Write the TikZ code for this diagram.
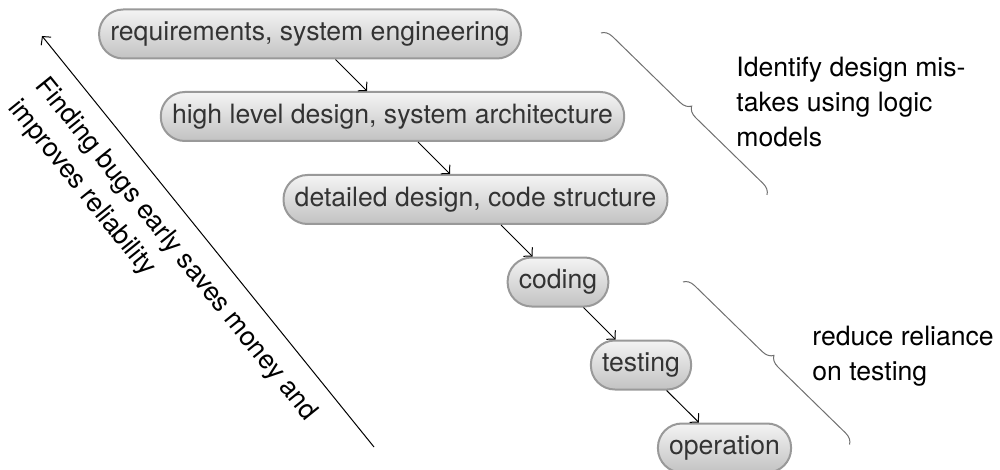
\documentclass[tikz,border=0pt]{standalone}
\usepackage{fontspec}
\setmainfont{TeX Gyre Heros}
\usetikzlibrary{arrows.meta,decorations.pathreplacing}

\definecolor{boxtop}{HTML}{F4F4F4}
\definecolor{boxbot}{HTML}{C2C2C2}
\definecolor{boxline}{HTML}{999999}
\definecolor{boxtext}{HTML}{333333}
\definecolor{bracecol}{HTML}{707070}

\tikzset{
  phase/.style={draw=boxline, line width=1pt, rounded corners=12pt,
    top color=boxtop, bottom color=boxbot, text=boxtext,
    minimum height=24.5pt, inner xsep=5.6pt, inner ysep=0pt},
  flow/.style={line width=0.5pt, -{Straight Barb[length=3pt,width=6.4pt]}},
  bracket/.style={draw=bracecol, line width=0.5pt,
    decorate, decoration={brace, amplitude=5.5pt}},
  note/.style={align=left, inner sep=0pt, anchor=north west}
}

\begin{document}
\begin{tikzpicture}[x=0.5pt, y=-0.5pt, font=\fontsize{13.3}{17.4}\selectfont]
  \useasboundingbox (0,0) rectangle (1000,470);

  % development phases, one step down and to the right each
  \node[phase] (req) at (310,34)    {requirements, system engineering};
  \node[phase] (high) at (392.5,116.5) {high level design, system architecture};
  \node[phase] (det) at (475.5,199.5) {detailed design, code structure};
  \node[phase] (cod) at (558,282)   {coding};
  \node[phase] (tes) at (641,365)   {testing};
  \node[phase] (ope) at (724.5,448) {operation};

  \draw[flow] (req) -- (high);
  \draw[flow] (high) -- (det);
  \draw[flow] (det) -- (cod);
  \draw[flow] (cod) -- (tes);
  \draw[flow] (tes) -- (ope);

  % cost arrow pointing back to the early phases
  \coordinate (early) at (42,36);
  \coordinate (late) at (374,447);
  \draw[flow] (late) -- (early);
  \node[note, rotate=-51.07] (cost) at (50,73.5)
    {Finding bugs early saves money and\\improves reliability};

  % braces grouping the phases
  \coordinate (b1s) at (601,33);
  \coordinate (b1e) at (767,195);
  \coordinate (b2s) at (683,282);
  \coordinate (b2e) at (850,445);
  \draw[bracket] (b1s) -- (b1e);
  \draw[bracket] (b2s) -- (b2e);

  \node[note] (logic) at (736,57) {Identify design mis-\\takes using logic\\models};
  \node[note] (test) at (812,326) {reduce reliance\\on testing};
\end{tikzpicture}
\end{document}
